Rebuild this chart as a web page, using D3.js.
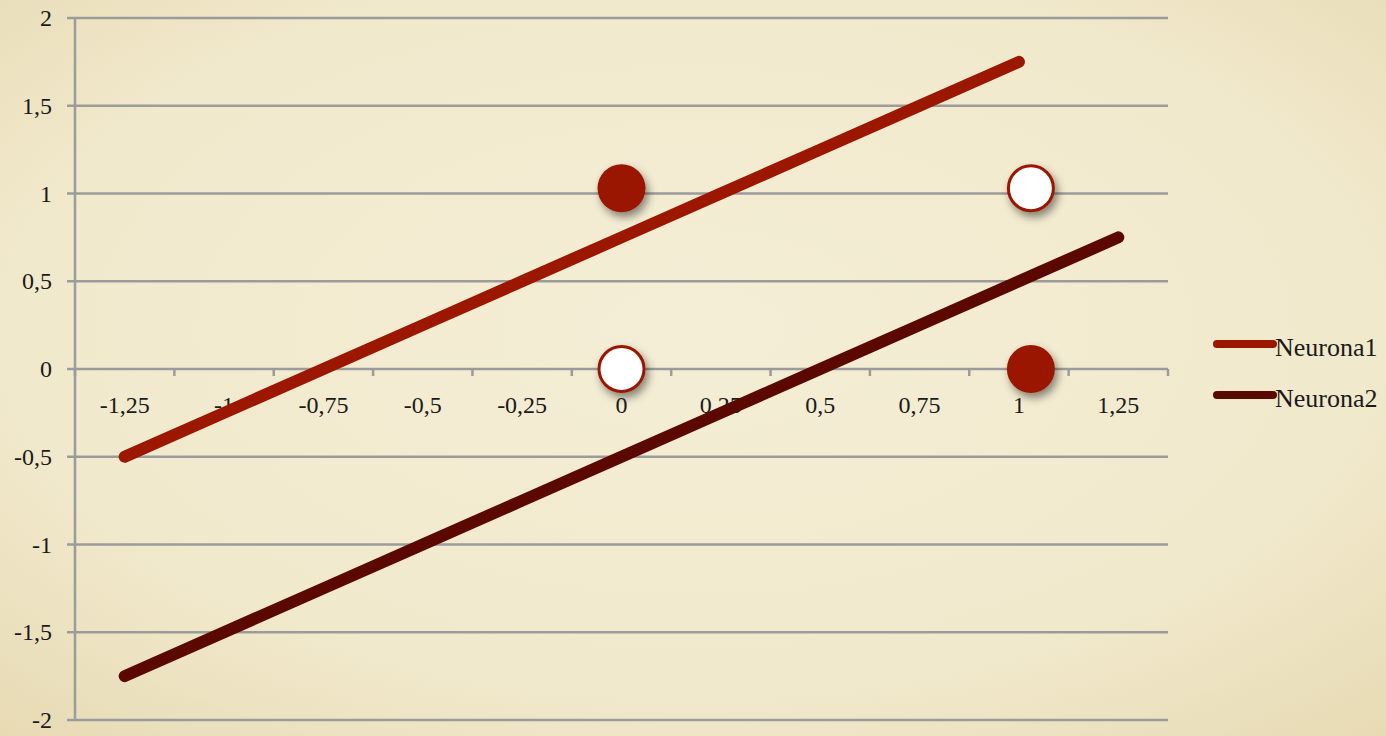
<!DOCTYPE html>
<html>
<head>
    <meta charset="UTF-8" />
    <title>Neuronas</title>
    <script src="https://d3js.org/d3.v7.min.js"></script>
    <style>
    body { margin: 0; background: #f1e9cc; }
    svg { display: block; }
    text { font-family: "Liberation Serif", "DejaVu Serif", serif; fill: #1a1a1a; }
    </style>
</head>
<body>
<div id="main"></div>
<script type="text/javascript">

// x categories of the chart (the axis shows them as categories)
const xValues = [-1.25, -1, -0.75, -0.5, -0.25, 0, 0.25, 0.5, 0.75, 1, 1.25]
const xLabels = ["-1,25", "-1", "-0,75", "-0,5", "-0,25", "0", "0,25", "0,5", "0,75", "1", "1,25"]
const yTicks = [-2, -1.5, -1, -0.5, 0, 0.5, 1, 1.5, 2]
const yLabels = ["-2", "-1,5", "-1", "-0,5", "0", "0,5", "1", "1,5", "2"]

// series values (Neurona1 stops at x = 1)
const neurona1 = [-0.5, -0.25, 0, 0.25, 0.5, 0.75, 1, 1.25, 1.5, 1.75]
const neurona2 = [-1.75, -1.5, -1.25, -1, -0.75, -0.5, -0.25, 0, 0.25, 0.5, 0.75]

// input points
const filledPoints = [{x: 0, y: 1.03}, {x: 1.03, y: 0}]
const openPoints = [{x: 0, y: 0}, {x: 1.03, y: 1.03}]

const seriesNames = ["Neurona1", "Neurona2"]
const seriesColors = ["#9b1700", "#5a0800"]

const width = 1386
const height = 736
const plotLeft = 75, plotRight = 1168, plotTop = 18, plotBottom = 720

const svg = d3.select("#main").append("svg")
  .attr("width", width)
  .attr("height", height)

// parchment background
const defs = svg.append("defs")
const bg = defs.append("radialGradient").attr("id", "paper")
  .attr("cx", "50%").attr("cy", "45%").attr("r", "75%")
bg.append("stop").attr("offset", "0%").attr("stop-color", "#f4eed6")
bg.append("stop").attr("offset", "65%").attr("stop-color", "#f1e9cc")
bg.append("stop").attr("offset", "100%").attr("stop-color", "#e7dab3")

const shadow = defs.append("filter").attr("id", "shadow")
  .attr("x", "-50%").attr("y", "-50%").attr("width", "200%").attr("height", "200%")
shadow.append("feDropShadow")
  .attr("dx", 3).attr("dy", 5).attr("stdDeviation", 4)
  .attr("flood-color", "#000").attr("flood-opacity", 0.45)

svg.append("rect").attr("width", width).attr("height", height).attr("fill", "url(#paper)")

const band = d3.scaleBand().domain(xLabels).range([plotLeft, plotRight])
const x = d3.scaleLinear().domain([-1.375, 1.375]).range([plotLeft, plotRight])
const y = d3.scaleLinear().domain([-2, 2]).range([plotBottom, plotTop])

// horizontal gridlines
svg.append("g").selectAll("line").data(yTicks).join("line")
  .attr("x1", plotLeft - 8).attr("x2", plotRight)
  .attr("y1", d => y(d)).attr("y2", d => y(d))
  .attr("stroke", "#9b9b9b").attr("stroke-width", 2.5)

svg.append("line")
  .attr("x1", plotLeft).attr("x2", plotLeft).attr("y1", plotTop).attr("y2", plotBottom)
  .attr("stroke", "#9b9b9b").attr("stroke-width", 2.5)

svg.append("g").selectAll("text").data(yTicks).join("text")
  .attr("x", 52).attr("y", d => y(d) + 8)
  .attr("text-anchor", "end")
  .attr("font-size", 24)
  .text((d, i) => yLabels[i])

// x axis along y = 0 with ticks between categories
const xAxis = svg.append("g").attr("transform", `translate(0,${y(0)})`)
xAxis.selectAll("line").data(xLabels.map(d => band(d)).concat([plotRight])).join("line")
  .attr("x1", d => d).attr("x2", d => d).attr("y1", 0).attr("y2", 7)
  .attr("stroke", "#9b9b9b").attr("stroke-width", 2.5)
xAxis.selectAll("text").data(xLabels).join("text")
  .attr("x", d => band(d) + band.bandwidth() / 2)
  .attr("y", 44)
  .attr("text-anchor", "middle")
  .attr("font-size", 24)
  .text(d => d)

// lines
const line = d3.line().x(d => x(d[0])).y(d => y(d[1]))
const series = [neurona1, neurona2]
series.forEach((vals, i) => {
  svg.append("path")
    .datum(vals.map((v, j) => [xValues[j], v]))
    .attr("d", line)
    .attr("fill", "none")
    .attr("stroke", seriesColors[i])
    .attr("stroke-width", 12)
    .attr("stroke-linecap", "round")
})

// points
svg.append("g").selectAll("circle").data(filledPoints).join("circle")
  .attr("cx", d => x(d.x)).attr("cy", d => y(d.y)).attr("r", 24)
  .attr("fill", "#9b1700")
  .attr("filter", "url(#shadow)")
svg.append("g").selectAll("circle").data(openPoints).join("circle")
  .attr("cx", d => x(d.x)).attr("cy", d => y(d.y)).attr("r", 22.5)
  .attr("fill", "#fff")
  .attr("stroke", "#9b1700").attr("stroke-width", 3)
  .attr("filter", "url(#shadow)")

// legend
const legend = svg.append("g").selectAll("g").data(seriesNames).join("g")
  .attr("transform", (d, i) => `translate(1217,${344 + i * 51})`)
legend.append("line")
  .attr("x1", 0).attr("x2", 56)
  .attr("stroke", (d, i) => seriesColors[i])
  .attr("stroke-width", 8).attr("stroke-linecap", "round")
legend.append("text")
  .attr("x", 58).attr("y", 12)
  .attr("font-size", 26)
  .text(d => d)

</script>
</body>
</html>
